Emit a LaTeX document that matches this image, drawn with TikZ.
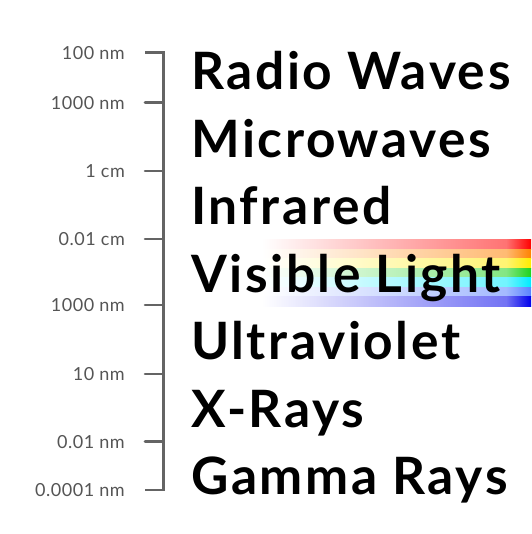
\documentclass[tikz,border=0pt]{standalone}
\usepackage{fontspec}
\setmainfont{Lato}
\newfontfamily\bandfont[LetterSpace=5]{Lato}
\newfontfamily\scalefont[LetterSpace=3]{Lato}
\usepackage{tkz-euclide}
\definecolor{axisgray}{RGB}{100,100,100}
\definecolor{labelgray}{RGB}{85,85,85}
\definecolor{bandred}{RGB}{255,0,0}
\definecolor{bandorange}{RGB}{255,130,0}
\definecolor{bandyellow}{RGB}{255,235,0}
\definecolor{bandgreen}{RGB}{30,210,30}
\definecolor{bandcyan}{RGB}{0,235,255}
\definecolor{bandsky}{RGB}{90,130,255}
\definecolor{bandblue}{RGB}{0,0,235}
\tikzset{
  scalelabel/.style={anchor=east,inner sep=0pt,text=labelgray,
    font=\scalefont\fontsize{18}{20}\selectfont},
  bandlabel/.style={anchor=base west,inner sep=0pt,text=black,
    font=\bandfont\fontsize{51.5}{56}\bfseries\selectfont}
}
\begin{document}
\begin{tikzpicture}[x=1pt,y=1pt]
\useasboundingbox (0,0) rectangle (531,534);
\foreach \c [count=\i] in {bandred,bandorange,bandyellow,bandgreen,bandcyan,bandsky,bandblue}{
  \shade[left color=white,right color=\c!55] (262,294-9.5*\i) rectangle (506,303.5-9.5*\i);
  \shade[left color=\c!55,right color=\c] (506,294-9.5*\i) rectangle (531,303.5-9.5*\i);
}
\tkzDefPoint(145,481.3){A}
\tkzDefPoint(163.5,481.3){A'}
\tkzDefPoint(145,431.3){B}
\tkzDefPoint(163.5,431.3){B'}
\tkzDefPoint(145,363){C}
\tkzDefPoint(163.5,363){C'}
\tkzDefPoint(145,295){D}
\tkzDefPoint(163.5,295){D'}
\tkzDefPoint(145,229){E}
\tkzDefPoint(163.5,229){E'}
\tkzDefPoint(145,160){F}
\tkzDefPoint(163.5,160){F'}
\tkzDefPoint(145,92.3){G}
\tkzDefPoint(163.5,92.3){G'}
\tkzDefPoint(145,44){H}
\tkzDefPoint(163.5,44){H'}
\draw[axisgray,line width=2.6pt] (A) -- (A') -- (H') -- (H);
\tkzDrawSegments[axisgray,line width=2.6pt](B,B' C,C' D,D' E,E' F,F' G,G')
\node[scalelabel] (a) at (125,481.3) {100 nm};
\node[scalelabel] (b) at (125,431.3) {1000 nm};
\node[scalelabel] (c) at (125,363) {1 cm};
\node[scalelabel] (d) at (125,295) {0.01 cm};
\node[scalelabel] (e) at (125,229) {1000 nm};
\node[scalelabel] (f) at (125,160) {10 nm};
\node[scalelabel] (g) at (125,92.3) {0.01 nm};
\node[scalelabel] (h) at (125,44) {0.0001 nm};
\node[bandlabel] (radio) at (191,444) {Radio Waves};
\node[bandlabel] (micro) at (191,376.5) {Microwaves};
\node[bandlabel] (infra) at (191,309) {Infrared};
\node[bandlabel] (visible) at (191,241.5) {Visible Light};
\node[bandlabel] (ultra) at (191,174) {Ultraviolet};
\node[bandlabel] (xray) at (191,106.5) {X-Rays};
\node[bandlabel] (gamma) at (191,39) {Gamma Rays};
\end{tikzpicture}
\end{document}
